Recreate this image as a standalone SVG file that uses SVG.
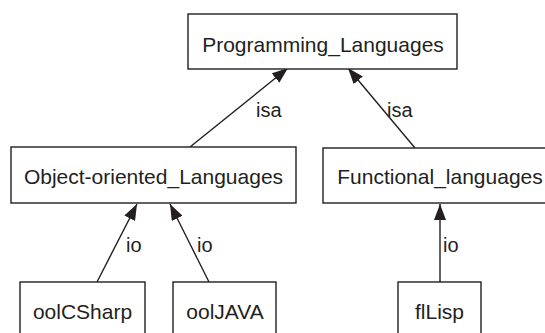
<svg xmlns="http://www.w3.org/2000/svg" width="545" height="333" viewBox="0 0 545 333">
<style>
.box{fill:#fff;stroke:#231f20;stroke-width:1.4}
.lbl{font-family:"Liberation Sans",Arial,sans-serif;font-size:21px;fill:#231f20;text-anchor:middle}
.el{font-family:"Liberation Sans",Arial,sans-serif;font-size:20px;fill:#231f20}
.edge{stroke:#231f20;stroke-width:1.4;fill:none;marker-end:url(#ah)}
</style>
<defs>
<marker id="ah" markerUnits="userSpaceOnUse" markerWidth="18" markerHeight="12" refX="16" refY="6" orient="auto">
<path d="M0,0 L16,6 L0,12 z" fill="#231f20"/>
</marker>
</defs>
<rect width="545" height="333" fill="#fff"/>
<g id="connectors">
<line class="edge" x1="190" y1="147" x2="288" y2="68"/>
<line class="edge" x1="415" y1="148" x2="348" y2="68"/>
<line class="edge" x1="97" y1="282" x2="137" y2="204"/>
<line class="edge" x1="209" y1="282" x2="170" y2="204"/>
<line class="edge" x1="440" y1="282" x2="440" y2="204"/>
<text class="el" x="256" y="117">isa</text>
<text class="el" x="387" y="117">isa</text>
<text class="el" x="126" y="252">io</text>
<text class="el" x="197" y="252">io</text>
<text class="el" x="443" y="252">io</text>
</g>
<g id="Programming_Languages">
<rect class="box" x="188" y="14" width="269" height="55"/>
<text class="lbl" x="323" y="52">Programming_Languages</text>
</g>
<g id="Object-oriented_Languages">
<rect class="box" x="11" y="147" width="285" height="56"/>
<text class="lbl" x="153.5" y="184">Object-oriented_Languages</text>
</g>
<g id="Functional_languages">
<rect class="box" x="323" y="148" width="234" height="55"/>
<text class="lbl" x="440" y="184">Functional_languages</text>
</g>
<g id="oolCSharp">
<rect class="box" x="20" y="282" width="125" height="70"/>
<text class="lbl" x="82.5" y="319">oolCSharp</text>
</g>
<g id="oolJAVA">
<rect class="box" x="173" y="282" width="103" height="70"/>
<text class="lbl" x="225" y="319">oolJAVA</text>
</g>
<g id="flLisp">
<rect class="box" x="398" y="282" width="83" height="70"/>
<text class="lbl" x="439.5" y="319">flLisp</text>
</g>
</svg>
